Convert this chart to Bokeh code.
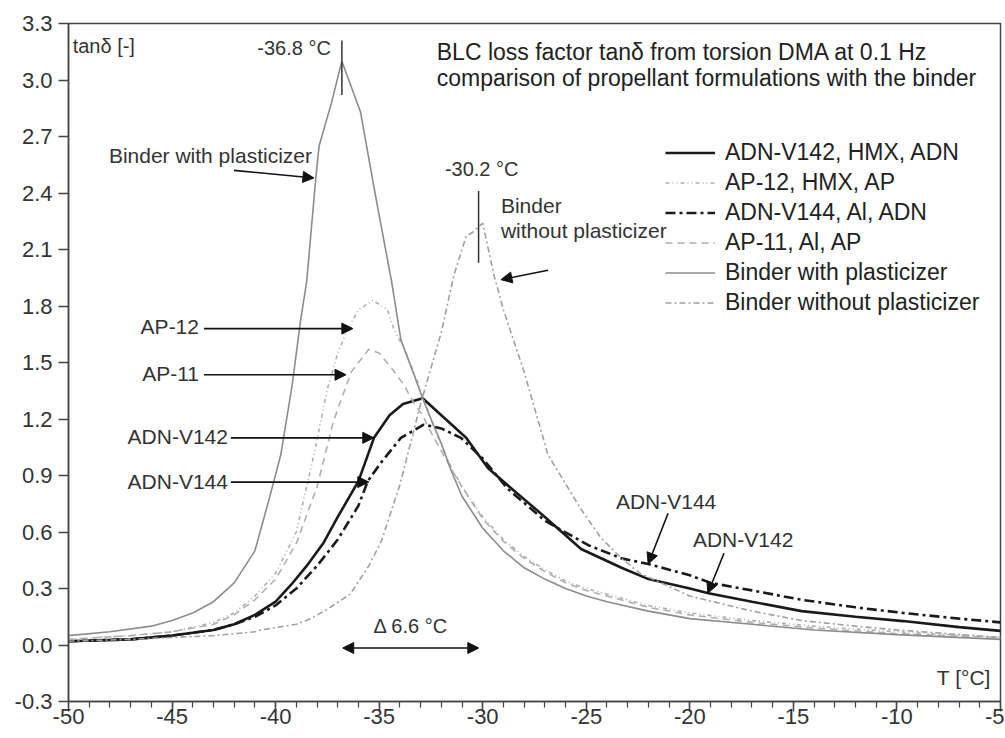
from bokeh.plotting import figure
from bokeh.models import (Range1d, FixedTicker, PrintfTickFormatter, Label, Arrow,
                          NormalHead, Legend, LegendItem)
from bokeh.embed import file_html
from bokeh.resources import INLINE

FONT = "Liberation Sans"

# ---------------- data ----------------
bwp_T = [-50, -48, -46, -45, -44, -43, -42, -41, -40.3, -39.75, -39.2, -38.8, -38.5, -38.05, -37.9,
         -37.3, -36.8, -35.9, -35.2, -34.4, -33.95, -33.3, -32.9, -32.5, -32, -31.5, -31, -30, -29,
         -28, -27, -26, -25, -24, -22, -20, -17, -14, -10, -5]
bwp_v = [0.05, 0.07, 0.10, 0.13, 0.17, 0.23, 0.33, 0.50, 0.78, 1.01, 1.38, 1.72, 1.93, 2.49, 2.65,
         2.88, 3.10, 2.83, 2.40, 1.93, 1.62, 1.43, 1.31, 1.20, 1.07, 0.92, 0.79, 0.62, 0.50,
         0.41, 0.35, 0.30, 0.26, 0.23, 0.18, 0.14, 0.11, 0.08, 0.055, 0.03]

ap12_T = [-50, -47, -45, -43, -42, -41, -40, -39, -38.15, -37.5, -37, -36.5, -36, -35.3, -34.6,
          -34.3, -33.7, -33.15, -32.9, -32.5, -32, -31.5, -31, -30, -29, -28, -27, -26, -25, -24,
          -22, -20, -17, -14, -10, -5]
ap12_v = [0.03, 0.05, 0.07, 0.12, 0.17, 0.26, 0.38, 0.60, 1.01, 1.36, 1.55, 1.68, 1.78, 1.83, 1.78,
          1.68, 1.55, 1.40, 1.32, 1.20, 1.06, 0.94, 0.84, 0.68, 0.56, 0.47, 0.40, 0.34, 0.30, 0.27,
          0.21, 0.17, 0.13, 0.10, 0.07, 0.04]

ap11_T = [-50, -47, -45, -43, -42, -41, -40, -39, -38, -37.2, -36.35, -35.5, -35, -34.4, -33.8,
          -33.3, -32.9, -32.5, -32, -31.5, -31, -30, -29, -28, -27, -26, -25, -24, -22, -20, -17,
          -14, -10, -5]
ap11_v = [0.03, 0.05, 0.07, 0.11, 0.16, 0.24, 0.35, 0.54, 0.84, 1.19, 1.45, 1.57, 1.55, 1.47, 1.38,
          1.28, 1.22, 1.13, 1.03, 0.93, 0.84, 0.67, 0.55, 0.46, 0.39, 0.33, 0.29, 0.26, 0.20, 0.16,
          0.12, 0.09, 0.06, 0.04]

v142_T = [-50, -47, -45, -43, -42, -41, -40, -39.25, -38.5, -37.7, -37, -36, -35.25, -34.5, -33.85,
          -32.9, -32, -30.8, -29.75, -28.5, -27, -25.25, -23.3, -22, -20, -19.1, -17, -14.6, -12,
          -9.7, -7, -5]
v142_v = [0.02, 0.03, 0.05, 0.08, 0.11, 0.16, 0.23, 0.32, 0.42, 0.54, 0.68, 0.87, 1.10, 1.22, 1.28,
          1.31, 1.22, 1.10, 0.94, 0.82, 0.68, 0.51, 0.41, 0.35, 0.30, 0.275, 0.23, 0.18, 0.15,
          0.127, 0.095, 0.075]

v144_T = [-50, -47, -45, -43, -42, -41, -40, -39, -38, -37, -36, -35.55, -34.9, -33.95, -32.85, -32,
          -31.05, -30, -28.8, -27, -24.9, -23.3, -22, -20, -19, -17, -14.6, -12, -9.7, -7, -5]
v144_v = [0.02, 0.03, 0.05, 0.08, 0.11, 0.15, 0.21, 0.30, 0.42, 0.56, 0.74, 0.87, 0.97, 1.10, 1.17,
          1.15, 1.10, 0.99, 0.83, 0.66, 0.53, 0.46, 0.43, 0.37, 0.33, 0.29, 0.24, 0.20, 0.17, 0.14,
          0.12]

bwo_T = [-50, -47, -45, -43, -41, -40.7, -39, -38.3, -37.5, -36.4, -35.5, -34.9, -34, -33, -32,
         -31.4, -30.8, -30.5, -30.0, -29.45, -29, -28, -26.85, -25.25, -24.3, -23.3, -22.4, -20,
         -17, -14.6, -12, -10, -5]
bwo_v = [0.02, 0.03, 0.04, 0.05, 0.07, 0.08, 0.11, 0.14, 0.19, 0.27, 0.42, 0.55, 0.85, 1.28, 1.66,
         1.96, 2.17, 2.19, 2.24, 1.96, 1.78, 1.45, 1.01, 0.72, 0.57, 0.46, 0.38, 0.26,
         0.18, 0.13, 0.10, 0.08, 0.04]

legend_labels = ["ADN-V142, HMX, ADN", "AP-12, HMX, AP", "ADN-V144, Al, ADN", "AP-11, Al, AP",
                 "Binder with plasticizer", "Binder without plasticizer"]

x_ticks = [-50, -45, -40, -35, -30, -25, -20, -15, -10, -5]
x_minor = list(range(-50, -4))
y_ticks = [-0.3, 0.0, 0.3, 0.6, 0.9, 1.2, 1.5, 1.8, 2.1, 2.4, 2.7, 3.0, 3.3]

# peak markers
peak_T = [-36.8, -30.2]
peak_y0 = [2.92, 2.03]
peak_y1 = [3.21, 2.41]

# ---------------- figure ----------------
p = figure(width=1004, height=737, output_backend="svg", toolbar_location=None,
           x_range=Range1d(-50, -5), y_range=Range1d(-0.3, 3.3),
           min_border_left=68, min_border_right=4, min_border_top=23, min_border_bottom=36)
p.xgrid.visible = False
p.ygrid.visible = False
p.outline_line_color = "#444444"
p.outline_line_width = 1.5

for ax in (p.xaxis[0], p.yaxis[0]):
    ax.axis_line_color = "#444444"
    ax.axis_line_width = 1.5
    ax.major_tick_line_color = "#444444"
    ax.major_tick_line_width = 1.5
    ax.minor_tick_line_color = "#444444"
    ax.minor_tick_line_width = 1.2
    ax.major_label_text_font = FONT
    ax.major_label_text_font_size = "22px"
    ax.major_label_text_color = "#333333"
    ax.major_tick_in = 0
    ax.major_tick_out = 10
    ax.minor_tick_in = 0

p.xaxis.ticker = FixedTicker(ticks=x_ticks, minor_ticks=x_minor)
p.xaxis.formatter = PrintfTickFormatter(format="%d")
p.xaxis.minor_tick_out = 6
p.xaxis.major_label_standoff = -3
p.yaxis.ticker = FixedTicker(ticks=y_ticks, minor_ticks=[])
p.yaxis.formatter = PrintfTickFormatter(format="%.1f")
p.yaxis.major_label_standoff = 6

r142 = p.line(v142_T, v142_v, line_color="#1a1a1a", line_width=2.6)
r12 = p.line(ap12_T, ap12_v, line_color="#b0b0b0", line_width=1.6, line_dash="4 3 1 3 1 3")
r144 = p.line(v144_T, v144_v, line_color="#1a1a1a", line_width=2.6, line_dash="10 4 3 4")
r11 = p.line(ap11_T, ap11_v, line_color="#b0b0b0", line_width=1.6, line_dash="7 5")
rbwp = p.line(bwp_T, bwp_v, line_color="#8c8c8c", line_width=1.6)
rbwo = p.line(bwo_T, bwo_v, line_color="#a0a0a0", line_width=1.6, line_dash="6 3 2 3")

p.segment(x0=peak_T, y0=peak_y0, x1=peak_T, y1=peak_y1, line_color="#333333", line_width=1.5)

legend = Legend(items=[LegendItem(label=l, renderers=[r]) for l, r in
                       zip(legend_labels, [r142, r12, r144, r11, rbwp, rbwo])],
                location=(597, 385), glyph_width=50, glyph_height=25, label_height=25,
                spacing=3, padding=0, margin=0, label_standoff=10,
                border_line_alpha=0, background_fill_alpha=0,
                label_text_font=FONT, label_text_font_size="23px", label_text_color="#222222")
p.add_layout(legend)

# ---------------- annotations ----------------
def lab(x, y, text, align="left", size="21px", color="#333333"):
    p.add_layout(Label(x=x, y=y, text=text, text_align=align, text_baseline="middle",
                       text_font=FONT, text_font_size=size, text_color=color))

lab(-49.8, 3.18, "tanδ [-]", size="20px")
lab(-37.33, 3.17, "-36.8 °C", align="right", size="20px")
lab(-30.05, 2.525, "-30.2 °C", align="center", size="20px")
lab(-29.12, 2.335, "Binder")
lab(-29.12, 2.20, "without plasticizer")
lab(-48.05, 2.60, "Binder with plasticizer")
lab(-43.7, 1.69, "AP-12", align="right")
lab(-43.7, 1.44, "AP-11", align="right")
lab(-42.3, 1.106, "ADN-V142", align="right")
lab(-42.3, 0.868, "ADN-V144", align="right")
lab(-23.57, 0.762, "ADN-V144")
lab(-19.85, 0.56, "ADN-V142")
lab(-33.47, 0.10, "Δ 6.6 °C", align="center", size="20px")
lab(-5.47, -0.175, "T [°C]", align="right", size="21px")
lab(-32.22, 3.15, "BLC loss factor tanδ from torsion DMA at 0.1 Hz", size="23px", color="#222222")
lab(-32.22, 3.012, "comparison of propellant formulations with the binder", size="23px", color="#222222")

arrows = [
    (-42.01, 2.52, -38.15, 2.48),
    (-26.85, 1.99, -29.12, 1.94),
    (-43.46, 1.68, -36.27, 1.68),
    (-43.46, 1.435, -36.6, 1.435),
    (-42.16, 1.10, -35.26, 1.10),
    (-42.16, 0.865, -35.50, 0.865),
    (-21.05, 0.70, -22.01, 0.43),
    (-18.35, 0.487, -19.13, 0.275),
]
for xs, ys, xe, ye in arrows:
    p.add_layout(Arrow(end=NormalHead(size=11, fill_color="#111111", line_color="#111111"),
                       x_start=xs, y_start=ys, x_end=xe, y_end=ye,
                       line_color="#111111", line_width=1.6))
p.add_layout(Arrow(start=NormalHead(size=11, fill_color="#111111", line_color="#111111"),
                   end=NormalHead(size=11, fill_color="#111111", line_color="#111111"),
                   x_start=-36.76, y_start=-0.016, x_end=-30.19, y_end=-0.016,
                   line_color="#111111", line_width=1.6))

open("out.html", "w").write(file_html(p, INLINE))
